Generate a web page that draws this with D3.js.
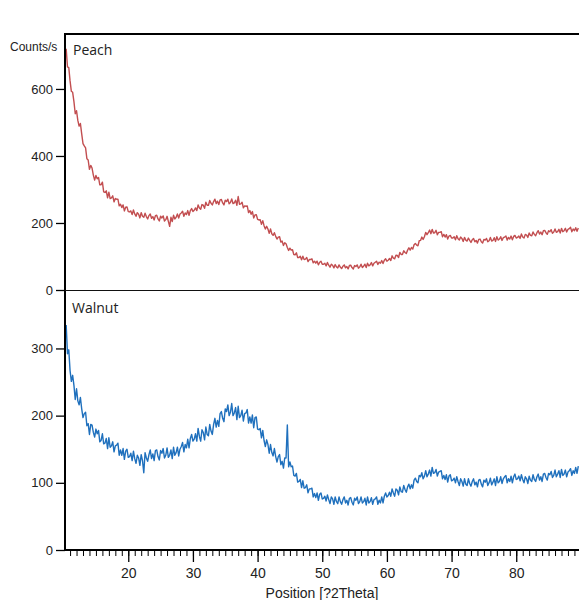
<!DOCTYPE html>
<html><head><meta charset="utf-8">
<script src="https://cdn.jsdelivr.net/npm/d3@7"></script>
<style>body{margin:0;background:#fff;} svg{display:block;}</style>
</head><body><svg id="c" width="579" height="600"></svg>
<script>
const xStart = 10.4, xStep = 0.2;
const peach = [
720,666,664,624,593,590,562,526,535,506,
489,497,466,437,430,424,392,388,360,372,
364,343,328,342,332,336,314,314,322,293,
291,296,275,292,273,275,281,263,273,271,
271,251,256,246,254,236,247,248,234,233,
236,225,239,227,220,231,226,215,231,220,
217,229,219,212,222,227,214,219,209,222,
223,212,206,220,215,221,206,210,220,205,
190,217,204,223,212,217,227,215,227,230,
235,220,230,225,237,223,237,243,234,238,
245,237,254,245,241,255,253,244,262,253,
253,267,259,254,264,271,258,265,255,269,
270,260,254,268,264,271,257,261,272,258,
260,268,253,279,256,257,262,245,251,250,
251,231,237,226,234,215,224,225,211,209,
210,196,207,192,182,190,182,169,182,168,
163,171,160,152,158,159,143,146,133,141,
138,127,118,125,119,120,106,105,111,97,
97,101,90,101,91,92,97,85,91,91,
93,81,86,80,86,75,83,86,77,77,
80,72,82,74,68,77,74,66,76,69,
66,75,68,64,71,75,66,70,63,73,
74,67,63,73,70,75,65,69,77,67,
71,77,67,80,72,75,82,72,80,83,
86,76,83,80,88,79,89,93,86,89,
94,88,102,95,93,104,103,97,112,106,
106,117,112,109,119,126,119,127,122,135,
139,134,132,147,148,158,151,159,172,165,
171,179,168,181,170,171,178,165,172,172,
174,159,166,158,165,152,161,163,155,155,
159,150,162,153,149,158,154,145,157,149,
146,155,148,142,150,154,144,148,140,151,
152,144,140,151,149,154,144,147,157,146,
148,156,145,159,149,152,159,148,156,158,
161,149,157,152,161,150,160,163,155,157,
161,154,167,158,155,166,164,157,170,163,
162,173,166,162,171,177,167,173,165,177,
178,171,166,177,174,180,169,173,182,172,
174,181,170,184,174,177,184,173,181,183,
187,174,182,177,186,175,185];
const walnut = [
335,292,298,267,251,260,245,224,240,222,
216,227,210,197,203,205,185,188,172,187,
186,175,168,180,173,178,161,163,173,158,
159,166,151,167,153,155,161,146,155,156,
159,141,149,141,151,135,147,150,138,139,
144,133,147,136,129,141,137,126,142,133,
115,145,137,132,142,149,136,143,133,148,
149,139,134,148,144,151,137,141,152,138,
141,149,136,153,141,145,153,140,150,154,
160,146,157,152,165,152,166,172,162,165,
173,162,181,169,162,179,175,164,183,172,
170,187,177,172,187,196,183,193,184,203,
206,196,191,210,206,216,200,205,218,200,
204,212,194,214,197,200,208,192,203,204,
209,189,198,189,201,182,197,198,180,179,
181,167,178,163,154,164,157,144,157,145,
140,151,139,131,139,142,127,132,122,137,
137,186,124,131,124,125,111,110,114,101,
102,105,93,103,92,93,97,85,91,91,
92,79,84,78,85,74,83,85,76,77,
80,73,82,75,69,79,76,68,79,72,
69,79,72,68,75,79,70,74,67,77,
78,71,67,77,74,79,69,72,79,70,
72,77,67,79,70,72,78,68,75,76,
79,68,74,70,79,70,80,85,79,81,
86,80,91,85,80,91,89,82,94,87,
86,96,90,86,94,98,91,97,92,104,
107,102,100,111,109,115,106,110,118,109,
113,119,110,123,114,115,120,110,116,117,
118,106,111,105,112,101,110,112,103,104,
107,100,109,102,96,106,102,95,106,98,
96,106,99,95,102,106,97,101,94,104,
105,98,94,104,101,106,96,100,107,97,
101,106,96,109,100,102,109,99,106,109,
111,100,106,102,110,100,109,113,105,106,
110,103,112,105,100,109,106,99,110,104,
102,112,105,102,109,113,104,109,102,113,
114,108,104,114,112,117,108,111,119,109,
113,118,108,120,111,113,119,109,116,118,
121,111,118,114,123,114,125];
const xMajor = [20,30,40,50,60,70,80];
const xMinor = d3.range(11,90,1);
const peachTicks = [0,200,400,600];
const walnutTicks = [0,100,200,300];
const panelNames = ["Peach","Walnut"];

const svg = d3.select("#c");
const L = 65, R = 580, T = 34, MID = 290, B = 550;
const x = d3.scaleLinear().domain([10,90]).range([63.6,580.9]);
const yP = d3.scaleLinear().domain([0,764]).range([MID,T]);
const yW = d3.scaleLinear().domain([0,387]).range([B,MID]);

svg.append("defs").append("clipPath").attr("id","clip")
  .append("rect").attr("x",L+1).attr("y",T).attr("width",R-L).attr("height",B-T);

const font = "Liberation Sans, Arial, sans-serif";
function yAxis(scale, ticks){
  const g = svg.append("g").attr("transform",`translate(${L},0)`)
    .call(d3.axisLeft(scale).tickValues(ticks).tickSize(9).tickPadding(3).tickFormat(d3.format("d")));
  g.select(".domain").remove();
  g.selectAll(".tick line").attr("stroke","#000").attr("stroke-width",1.3);
  g.selectAll(".tick text").attr("font-family",font).attr("font-size",13).attr("fill","#222");
}
yAxis(yP, peachTicks);
yAxis(yW, walnutTicks);

const gx = svg.append("g").attr("transform",`translate(0,${B})`)
  .call(d3.axisBottom(x).tickValues(xMinor).tickSize(6).tickFormat(""));
gx.select(".domain").remove();
gx.selectAll(".tick line").attr("stroke","#000").attr("stroke-width",1);
const gx2 = svg.append("g").attr("transform",`translate(0,${B})`)
  .call(d3.axisBottom(x).tickValues(xMajor).tickSize(12).tickPadding(6).tickFormat(d3.format("d")));
gx2.select(".domain").remove();
gx2.selectAll(".tick line").attr("stroke","#000").attr("stroke-width",1.3);
gx2.selectAll(".tick text").attr("font-family",font).attr("font-size",14).attr("fill","#222");

const xs = i => xStart + i*xStep;
svg.append("path").datum(peach).attr("clip-path","url(#clip)")
  .attr("fill","none").attr("stroke","#c24e50").attr("stroke-width",1.4).attr("stroke-linejoin","round")
  .attr("d", d3.line().x((d,i)=>x(xs(i))).y(d=>yP(d)));
svg.append("path").datum(walnut).attr("clip-path","url(#clip)")
  .attr("fill","none").attr("stroke","#1f70bd").attr("stroke-width",1.4).attr("stroke-linejoin","round")
  .attr("d", d3.line().x((d,i)=>x(xs(i))).y(d=>yW(d)));

svg.append("line").attr("x1",L).attr("x2",L).attr("y1",T-1).attr("y2",B+1).attr("stroke","#000").attr("stroke-width",2);
svg.append("line").attr("x1",L-1).attr("x2",R).attr("y1",T).attr("y2",T).attr("stroke","#000").attr("stroke-width",2);
svg.append("line").attr("x1",L).attr("x2",R).attr("y1",MID+0.5).attr("y2",MID+0.5).attr("stroke","#111").attr("stroke-width",1);
svg.append("line").attr("x1",L-1).attr("x2",R).attr("y1",B).attr("y2",B).attr("stroke","#000").attr("stroke-width",2);

svg.append("text").attr("x",10).attr("y",51).attr("font-family",font).attr("font-size",12).attr("fill","#222").text("Counts/s");
svg.append("text").attr("x",73).attr("y",55).attr("font-family","Open Sans, sans-serif").attr("font-size",14).attr("fill","#222").text(panelNames[0]);
svg.append("text").attr("x",72).attr("y",313).attr("font-family","Open Sans, sans-serif").attr("font-size",14).attr("fill","#222").text(panelNames[1]);
svg.append("text").attr("x",322).attr("y",598).attr("text-anchor","middle").attr("font-family",font).attr("font-size",14).attr("fill","#222").text("Position [?2Theta]");
</script></body></html>
